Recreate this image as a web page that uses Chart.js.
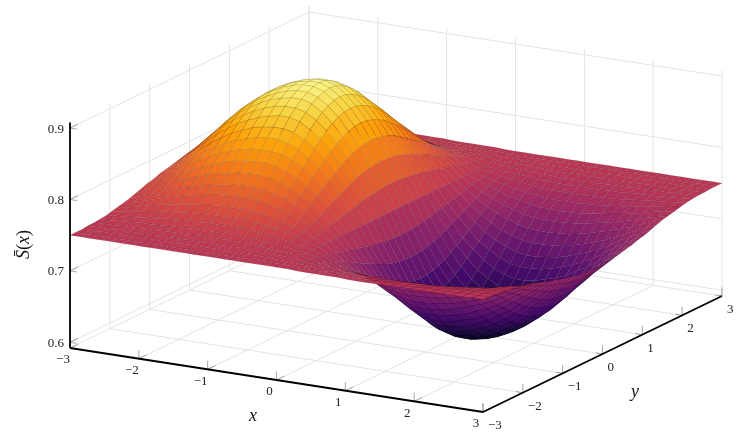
<!DOCTYPE html>
<html>
<head>
<meta charset="utf-8">
<title>S(x) surface</title>
<script src="https://cdn.jsdelivr.net/npm/chart.js@4"></script>
<style>
  html, body { margin: 0; padding: 0; background: #fff; }
  canvas { display: block; }
</style>
</head>
<body>
<canvas id="chart" width="747" height="444"></canvas>
<script>
// grid of the surface
const xValues = [-3,-2.85,-2.7,-2.55,-2.4,-2.25,-2.1,-1.95,-1.8,-1.65,-1.5,-1.35,-1.2,-1.05,-0.9,-0.75,-0.6,-0.45,-0.3,-0.15,0,0.15,0.3,0.45,0.6,0.75,0.9,1.05,1.2,1.35,1.5,1.65,1.8,1.95,2.1,2.25,2.4,2.55,2.7,2.85,3];
const yValues = [-3,-2.85,-2.7,-2.55,-2.4,-2.25,-2.1,-1.95,-1.8,-1.65,-1.5,-1.35,-1.2,-1.05,-0.9,-0.75,-0.6,-0.45,-0.3,-0.15,0,0.15,0.3,0.45,0.6,0.75,0.9,1.05,1.2,1.35,1.5,1.65,1.8,1.95,2.1,2.25,2.4,2.55,2.7,2.85,3];

// S values x 1000, one row per x, one column per y
const surfaceValues = [
  [750,750,750,751,751,752,753,755,757,759,761,764,767,770,772,775,777,779,781,782,783,783,782,781,779,777,775,772,770,767,764,761,759,757,755,753,752,751,751,750,750],
  [750,750,750,751,752,753,755,757,759,763,766,770,774,778,781,785,788,791,794,795,797,797,795,794,791,788,785,781,778,774,770,766,763,759,757,755,753,752,751,750,750],
  [750,750,751,751,752,754,756,759,762,766,771,776,781,786,791,795,800,804,807,809,810,811,810,809,807,804,800,795,791,786,781,776,771,766,762,759,756,754,752,751,751],
  [750,750,751,752,753,755,757,761,766,771,777,783,789,795,802,807,813,818,822,824,826,827,826,824,822,818,813,807,802,795,789,783,777,771,766,761,757,755,753,752,751],
  [750,750,751,752,753,756,759,763,769,775,782,790,797,805,812,819,826,832,836,840,842,843,842,840,836,832,826,819,812,805,797,790,782,775,769,763,759,756,753,752,751],
  [750,750,751,752,754,756,760,766,772,779,787,796,805,814,822,830,838,845,850,854,857,858,857,854,850,845,838,830,822,814,805,796,787,779,772,766,760,756,754,752,751],
  [750,750,751,752,754,757,762,767,774,782,791,801,811,821,830,839,848,856,862,866,869,870,869,866,862,856,848,839,830,821,811,801,791,782,774,767,762,757,754,752,751],
  [750,750,751,753,755,758,763,769,776,785,795,806,816,827,838,848,857,865,872,877,880,881,880,877,872,865,857,848,838,827,816,806,795,785,776,769,763,758,755,753,751],
  [750,750,751,753,755,758,764,770,778,788,798,810,821,833,844,854,864,873,880,885,889,890,889,885,880,873,864,854,844,833,821,810,798,788,778,770,764,758,755,753,751],
  [750,750,751,753,755,759,764,771,780,790,801,812,825,837,848,860,870,879,887,892,896,897,896,892,887,879,870,860,848,837,825,812,801,790,780,771,764,759,755,753,751],
  [750,750,752,753,756,759,765,772,781,791,802,815,827,840,852,863,874,884,891,897,901,902,901,897,891,884,874,863,852,840,827,815,802,791,781,772,765,759,756,753,752],
  [750,750,752,753,756,759,765,772,781,792,803,816,829,841,854,865,877,886,894,900,904,905,904,900,894,886,877,865,854,841,829,816,803,792,781,772,765,759,756,753,752],
  [750,750,752,753,756,759,765,772,781,792,803,816,829,841,854,865,877,886,894,900,904,905,904,900,894,886,877,865,854,841,829,816,803,792,781,772,765,759,756,753,752],
  [750,750,752,753,756,759,765,772,780,791,802,814,826,839,850,862,873,882,890,895,899,900,899,895,890,882,873,862,850,839,826,814,802,791,780,772,765,759,756,753,752],
  [750,750,751,753,755,758,764,770,778,788,798,810,821,833,844,854,864,873,880,885,889,890,889,885,880,873,864,854,844,833,821,810,798,788,778,770,764,758,755,753,751],
  [750,750,751,753,755,758,762,768,775,784,793,804,814,824,834,844,853,861,867,872,875,876,875,872,867,861,853,844,834,824,814,804,793,784,775,768,762,758,755,753,751],
  [750,750,751,752,754,756,760,766,772,779,787,796,805,814,822,830,838,845,850,854,857,858,857,854,850,845,838,830,822,814,805,796,787,779,772,766,760,756,754,752,751],
  [750,750,751,752,753,755,758,762,767,773,780,787,794,801,808,814,820,826,830,833,835,836,835,833,830,826,820,814,808,801,794,787,780,773,767,762,758,755,753,752,751],
  [750,750,751,751,752,754,756,759,762,766,770,775,780,785,789,794,798,802,805,807,808,809,808,807,805,802,798,794,789,785,780,775,770,766,762,759,756,754,752,751,751],
  [750,750,750,751,751,752,753,754,756,758,760,763,765,768,770,772,775,776,778,779,780,780,780,779,778,776,775,772,770,768,765,763,760,758,756,754,753,752,751,751,750],
  [750,750,750,750,750,750,750,750,750,750,750,750,750,750,750,750,750,750,750,750,750,750,750,750,750,750,750,750,750,750,750,750,750,750,750,750,750,750,750,750,750],
  [750,749,749,748,747,746,744,742,740,737,735,732,730,728,725,724,722,721,720,720,720,721,722,724,725,728,730,732,735,737,740,742,744,746,747,748,749,749,750,750,750],
  [749,749,748,746,744,741,738,734,730,725,720,715,711,706,702,698,695,693,692,691,692,693,695,698,702,706,711,715,720,725,730,734,738,741,744,746,748,749,749,750,750],
  [749,748,747,745,742,738,733,727,720,713,706,699,692,686,680,674,670,667,665,664,665,667,670,674,680,686,692,699,706,713,720,727,733,738,742,745,747,748,749,750,750],
  [749,748,746,744,740,734,728,721,713,704,695,686,678,670,662,655,650,646,643,642,643,646,650,655,662,670,678,686,695,704,713,721,728,734,740,744,746,748,749,750,750],
  [749,747,745,742,738,732,725,716,707,696,686,676,666,656,647,639,633,628,625,624,625,628,633,639,647,656,666,676,686,696,707,716,725,732,738,742,745,747,749,750,750],
  [749,747,745,742,736,730,722,712,702,690,679,667,656,646,636,627,620,615,611,610,611,615,620,627,636,646,656,667,679,690,702,712,722,730,736,742,745,747,749,750,750],
  [748,747,744,741,735,728,720,709,698,686,674,661,650,638,627,618,610,605,601,600,601,605,610,618,627,638,650,661,674,686,698,709,720,728,735,741,744,747,748,750,750],
  [748,747,744,741,735,728,719,708,697,684,671,659,646,635,623,614,606,600,596,595,596,600,606,614,623,635,646,659,671,684,697,708,719,728,735,741,744,747,748,750,750],
  [748,747,744,741,735,728,719,708,697,684,671,659,646,635,623,614,606,600,596,595,596,600,606,614,623,635,646,659,671,684,697,708,719,728,735,741,744,747,748,750,750],
  [748,747,744,741,735,728,719,709,698,685,673,660,648,637,626,616,609,603,599,598,599,603,609,616,626,637,648,660,673,685,698,709,719,728,735,741,744,747,748,750,750],
  [749,747,745,741,736,729,720,710,699,688,675,663,652,640,630,621,613,608,604,603,604,608,613,621,630,640,652,663,675,688,699,710,720,729,736,741,745,747,749,750,750],
  [749,747,745,742,736,730,722,712,702,690,679,667,656,646,636,627,620,615,611,610,611,615,620,627,636,646,656,667,679,690,702,712,722,730,736,742,745,747,749,750,750],
  [749,747,745,742,737,731,724,715,705,694,684,673,662,652,643,635,628,623,620,619,620,623,628,635,643,652,662,673,684,694,705,715,724,731,737,742,745,747,749,750,750],
  [749,748,746,743,738,733,726,718,709,699,689,679,670,661,652,644,638,634,631,630,631,634,638,644,652,661,670,679,689,699,709,718,726,733,738,743,746,748,749,750,750],
  [749,748,746,744,740,734,728,721,713,704,695,686,678,670,662,655,650,646,643,642,643,646,650,655,662,670,678,686,695,704,713,721,728,734,740,744,746,748,749,750,750],
  [749,748,747,744,741,737,731,725,718,710,703,695,688,681,674,668,664,660,658,657,658,660,664,668,674,681,688,695,703,710,718,725,731,737,741,744,747,748,749,750,750],
  [749,748,747,745,743,739,734,729,723,717,711,705,698,693,687,682,678,676,674,673,674,676,678,682,687,693,698,705,711,717,723,729,734,739,743,745,747,748,749,750,750],
  [749,749,748,746,744,741,738,734,729,724,719,714,709,705,700,696,693,691,690,689,690,691,693,696,700,705,709,714,719,724,729,734,738,741,744,746,748,749,749,750,750],
  [750,749,748,747,745,743,741,737,734,730,726,722,719,715,712,709,706,705,703,703,703,705,706,709,712,715,719,722,726,730,734,737,741,743,745,747,748,749,750,750,750],
  [750,749,749,748,747,745,743,741,739,736,733,730,728,725,723,721,719,718,717,717,717,718,719,721,723,725,728,730,733,736,739,741,743,745,747,748,749,749,750,750,750],
];

const xTicks = [-3,-2,-1,0,1,2,3];
const yTicks = [-3,-2,-1,0,1,2,3];
const zTicks = [0.6,0.7,0.8,0.9];

const zFloor = 0.592;
const zTop = 0.908;
const colorMin = 0.585;
const colorMax = 0.915;

const inferno = ['#000004','#160b39','#420a68','#6a176e','#932667','#bc3754','#dd513a','#f37819','#fca50a','#f6d746','#fcffa4'];

// orthographic view: three axis directions in plane units
function project(x, y, z) {
  const a = (x + 3) / 6, b = (y + 3) / 6;
  return {
    x: 70 + 413 * a + 239 * b,
    y: 348 + 64 * a - 116 * b - 714 * (z - zFloor),
  };
}

function colorFor(z) {
  const t = Math.min(1, Math.max(0, (z - colorMin) / (colorMax - colorMin))) * (inferno.length - 1);
  const i = Math.min(inferno.length - 2, Math.floor(t));
  const f = t - i;
  const rgb = k => {
    const c0 = parseInt(inferno[i].substr(1 + k * 2, 2), 16);
    const c1 = parseInt(inferno[i + 1].substr(1 + k * 2, 2), 16);
    return Math.round(c0 + (c1 - c0) * f);
  };
  return `rgb(${rgb(0)},${rgb(1)},${rgb(2)})`;
}

function segment(p, q, color, width) {
  return {
    data: [project(...p), project(...q)],
    showLine: true,
    borderColor: color,
    borderWidth: width,
    pointRadius: 0,
    fill: false,
  };
}

const gridColor = '#e4e4e4';
const tickColor = '#808080';
const drawList = [];

// ── Grid on floor and the two back walls ─────────────
xTicks.forEach(x => {
  drawList.push(segment([x, -3, zFloor], [x, 3, zFloor], gridColor, 1));
  drawList.push(segment([x, 3, zFloor], [x, 3, zTop], gridColor, 1));
});
yTicks.forEach(y => {
  drawList.push(segment([-3, y, zFloor], [3, y, zFloor], gridColor, 1));
  drawList.push(segment([-3, y, zFloor], [-3, y, zTop], gridColor, 1));
});
zTicks.forEach(z => {
  drawList.push(segment([-3, -3, z], [-3, 3, z], gridColor, 1));
  drawList.push(segment([-3, 3, z], [3, 3, z], gridColor, 1));
});

// ── Surface cells, far corner (x=-3, y=3) first ──────
for (let i = 0; i < xValues.length - 1; i++) {
  for (let j = yValues.length - 2; j >= 0; j--) {
    const zs = [surfaceValues[i][j], surfaceValues[i + 1][j], surfaceValues[i + 1][j + 1], surfaceValues[i][j + 1]].map(v => v / 1000);
    const mean = (zs[0] + zs[1] + zs[2] + zs[3]) / 4;
    drawList.push({
      data: [
        project(xValues[i], yValues[j], zs[0]),
        project(xValues[i + 1], yValues[j], zs[1]),
        project(xValues[i + 1], yValues[j + 1], zs[2]),
        project(xValues[i], yValues[j + 1], zs[3]),
        project(xValues[i], yValues[j], zs[0]),
      ],
      showLine: true,
      fill: 'shape',
      backgroundColor: colorFor(mean),
      borderColor: 'rgba(0,0,0,0.2)',
      borderWidth: 0.5,
      pointRadius: 0,
    });
  }
}

// ── Tick marks and black axes on top ─────────────────
xTicks.forEach(x => {
  drawList.push(segment([x, -3, zFloor], [x, -3, zFloor + 0.012], tickColor, 0.7));
  drawList.push(segment([x, -3, zFloor], [x, -2.8, zFloor], tickColor, 0.7));
});
yTicks.forEach(y => {
  drawList.push(segment([3, y, zFloor], [3, y, zFloor + 0.012], tickColor, 0.7));
  drawList.push(segment([3, y, zFloor], [2.9, y, zFloor], tickColor, 0.7));
});
zTicks.forEach(z => {
  drawList.push(segment([-3, -3, z], [-3, -2.8, z], tickColor, 0.7));
  drawList.push(segment([-3, -3, z], [-2.9, -3, z], tickColor, 0.7));
});
drawList.push(segment([-3, -3, zFloor], [3, -3, zFloor], '#000', 1.8));
drawList.push(segment([3, -3, zFloor], [3, 3, zFloor], '#000', 1.8));
drawList.push(segment([-3, -3, zFloor], [-3, -3, zTop], '#000', 1.8));

const serif = '"Liberation Serif", serif';
const fmtTick = v => (v < 0 ? '\u2212' + Math.abs(v) : String(v));

// axis text, placed through the chart scales
const axisText = {
  id: 'axisText',
  afterDatasetsDraw(chart) {
    const { ctx, scales } = chart;
    const px = p => ({ x: scales.x.getPixelForValue(p.x), y: scales.y.getPixelForValue(p.y) });
    ctx.save();
    ctx.fillStyle = '#222';
    ctx.textBaseline = 'middle';
    ctx.font = `13px ${serif}`;

    ctx.textAlign = 'center';
    xTicks.forEach(x => {
      const p = px(project(x, -3, zFloor));
      ctx.fillText(fmtTick(x), p.x - 7, p.y + 12);
    });
    ctx.textAlign = 'left';
    yTicks.forEach(y => {
      const p = px(project(3, y, zFloor));
      ctx.fillText(fmtTick(y), p.x + 5, p.y + 13.5);
    });
    ctx.textAlign = 'right';
    zTicks.forEach(z => {
      const p = px(project(-3, -3, z));
      ctx.fillText(z.toFixed(1), p.x - 6, p.y + 1);
    });

    ctx.textAlign = 'center';
    ctx.fillStyle = '#111';
    ctx.font = `italic 18px ${serif}`;
    ctx.fillText('x', 253, 416);
    ctx.fillText('y', 635, 392);

    // rotated S-bar(x)
    ctx.translate(24, 241);
    ctx.rotate(-Math.PI / 2);
    ctx.textAlign = 'left';
    const parts = [['S\u0304', 'italic'], ['(', ''], ['x', 'italic'], [')', '']];
    let offset = -18;
    parts.forEach(([txt, style]) => {
      ctx.font = `${style} 18px ${serif}`;
      ctx.fillText(txt, offset, 0);
      offset += ctx.measureText(txt).width;
    });
    ctx.restore();
  },
};

new Chart(document.getElementById('chart'), {
  type: 'scatter',
  // Chart.js paints the last dataset first
  data: { datasets: drawList.slice().reverse() },
  options: {
    responsive: false,
    animation: false,
    layout: { padding: 0 },
    plugins: { legend: { display: false }, tooltip: { enabled: false } },
    events: [],
    scales: {
      x: { type: 'linear', min: 0, max: 747, display: false },
      y: { type: 'linear', min: 0, max: 444, reverse: true, display: false },
    },
  },
  plugins: [axisText],
});
</script>
</body>
</html>
